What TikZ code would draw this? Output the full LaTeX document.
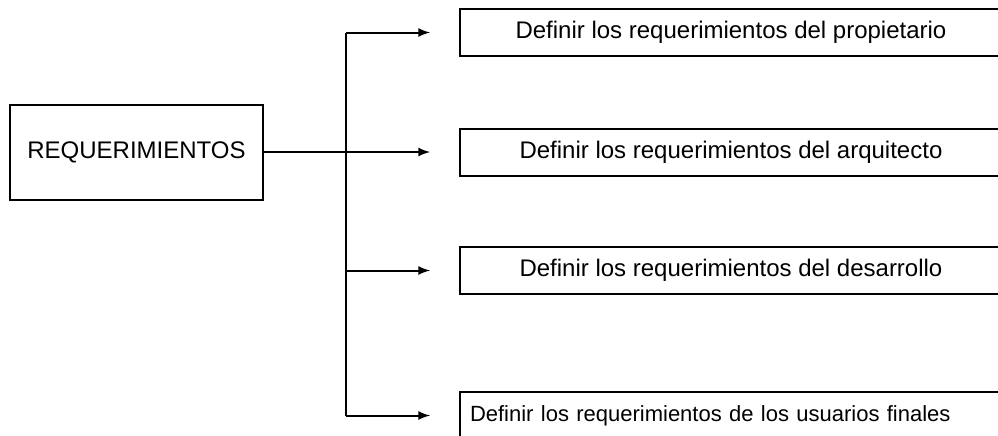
\documentclass[tikz,border=0pt]{standalone}
\usepackage{fontspec}
\setmainfont{Liberation Sans}
\usepackage{tikz}

\begin{document}
\begin{tikzpicture}[x=0.5pt, y=-0.5pt, >=latex, font=\fontsize{12}{14}\selectfont,
		caja/.style={draw, line width=1pt, minimum height=23.5pt, inner sep=0pt},
		tarea/.style={caja, anchor=west, minimum width=271pt},
		flecha/.style={->, line width=1pt, shorten >=14.5pt}]
			% Bildbereich
			\useasboundingbox (0,0) rectangle (998,435);
			\clip (0,0) rectangle (998,435);
			% Bloque principal
			\node[caja, minimum width=126.5pt, minimum height=47.5pt] (req) at (136.5,152) {REQUERIMIENTOS};
			% Tareas
			\node[tarea] (prop) at (459,32.5) {Definir los requerimientos del propietario};
			\node[tarea] (arq) at (459,152) {Definir los requerimientos del arquitecto};
			\node[tarea] (des) at (459,270.5) {Definir los requerimientos del desarrollo};
			\node[caja, anchor=west, text width=300pt, align=left, inner xsep=5pt,
				font=\fontsize{11}{13}\selectfont] (usu) at (459,415.5) {Definir los requerimientos de los usuarios finales};
			% Verbindungen
			\coordinate (tronco) at (346,152);
			\draw[line width=1pt] (req.east) -- (tronco);
			\draw[line width=1pt] (tronco |- prop.west) -- (tronco |- usu.west);
			\foreach \t in {prop,arq,des,usu} \draw[flecha] (tronco |- \t.west) -- (\t.west);
		\end{tikzpicture}
\end{document}
